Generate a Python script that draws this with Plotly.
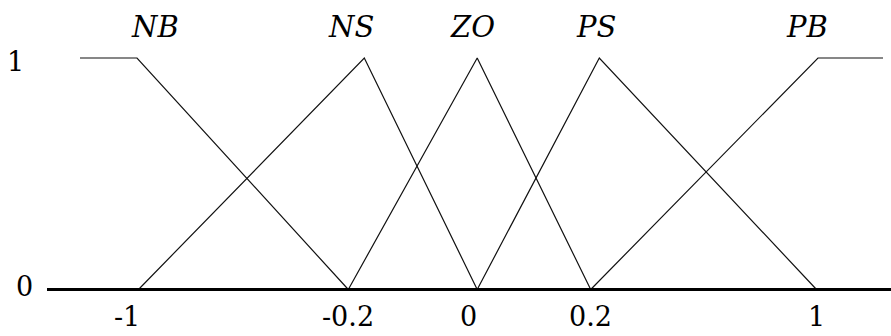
import plotly.graph_objects as go

# Schematic drawing scale: x in drawing units across the 891-wide canvas,
# y is membership degree (0..1).
W, H = 891, 336

# Tick labels of the universe of discourse and where they sit on the schematic axis
tick_labels = ["-1", "-0.2", "0", "0.2", "1"]
tick_pos = [138.5, 348.3, 477.2, 590.7, 816.5]

# Membership-function vertices (x on schematic axis, y = membership degree)
set_names = ["NB", "NS", "ZO", "PS", "PB"]
nb_x = [80.0, 137.0, 348.3]
nb_y = [1, 1, 0]
ns_x = [138.5, 364.3, 477.2]
ns_y = [0, 1, 0]
zo_x = [348.3, 477.2, 590.7]
zo_y = [0, 1, 0]
ps_x = [477.2, 599.3, 816.5]
ps_y = [0, 1, 0]
pb_x = [590.7, 818.0, 883.0]
pb_y = [0, 1, 1]

# Where each set name is written above its peak
name_x = [154.5, 351.0, 472.5, 596.0, 806.5]

# Membership degree labels on the left
degree_labels = ["1", "0"]
degree_vals = [1, 0]

# Horizontal axis extent
axis_x = [47.0, 891.0]

# y-range chosen so that degree 1 and 0 land at the intended heights
px_per_unit = 231.5
y_top_px, y_zero_px = 58.0, 289.5
y_max = 1 + y_top_px / px_per_unit
y_min = -(H - y_zero_px) / px_per_unit

fig = go.Figure()

for xs, ys in [(nb_x, nb_y), (ns_x, ns_y), (zo_x, zo_y), (ps_x, ps_y), (pb_x, pb_y)]:
    fig.add_trace(go.Scatter(x=xs, y=ys, mode="lines",
                             line=dict(color="#111111", width=1.2),
                             hoverinfo="skip", showlegend=False))

# Thick baseline (membership 0)
fig.add_trace(go.Scatter(x=axis_x, y=[0, 0], mode="lines",
                         line=dict(color="black", width=3),
                         hoverinfo="skip", showlegend=False))

serif = "DejaVu Serif"
annotations = []

for name, x in zip(set_names, name_x):
    annotations.append(dict(x=x, y=1.135, xref="x", yref="y", text=f"<i>{name}</i>",
                            showarrow=False, xanchor="center", yanchor="middle",
                            font=dict(family=serif, size=29, color="black")))

# Tick labels under the baseline, slightly left of the "-1" and "0" points as drawn
label_shift = {"-1": -11.5, "0": -9.0}
for lab, x in zip(tick_labels, tick_pos):
    annotations.append(dict(x=x + label_shift.get(lab, 0), y=-0.115, xref="x", yref="y",
                            text=lab, showarrow=False, xanchor="center", yanchor="middle",
                            font=dict(family=serif, size=27, color="black")))

degree_x = {"1": 15.5, "0": 24.0}
degree_off = {"1": -0.017, "0": 0.011}
for lab, v in zip(degree_labels, degree_vals):
    annotations.append(dict(x=degree_x[lab], y=v + degree_off[lab], xref="x", yref="y",
                            text=lab, showarrow=False, xanchor="center", yanchor="middle",
                            font=dict(family=serif, size=27, color="black")))

fig.update_layout(
    width=W, height=H,
    margin=dict(l=0, r=0, t=0, b=0),
    paper_bgcolor="white", plot_bgcolor="white",
    xaxis=dict(range=[0, W], visible=False, fixedrange=True),
    yaxis=dict(range=[y_min, y_max], visible=False, fixedrange=True),
    annotations=annotations,
    showlegend=False,
)

fig.write_html("out.html")
